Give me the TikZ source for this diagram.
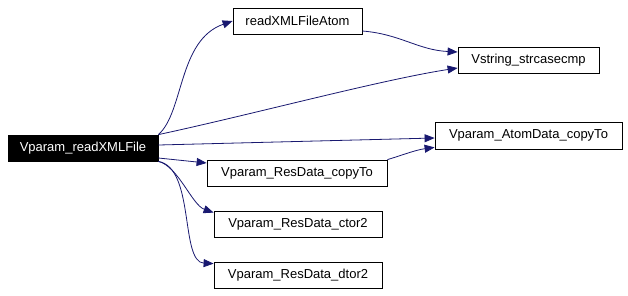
\documentclass[tikz,border=0pt]{standalone}
\usepackage{fontspec}
\setmainfont{Liberation Sans}
\usetikzlibrary{arrows.meta,calc}
\definecolor{edgeblue}{HTML}{191970}
\begin{document}
\begin{tikzpicture}[x=1pt,y=-1pt,
  fn/.style={draw=black,line width=0.8pt,fill=white,inner sep=0pt,
    minimum height=26pt,font=\fontsize{13}{15.6}\selectfont},
  root/.style={fn,fill=black,text=white},
  call/.style={draw=edgeblue,line width=0.8pt,
    -{Triangle[length=10pt,width=8pt]}}]
\useasboundingbox (0,0) rectangle (628,295);

% functions
\node[root,minimum width=150pt] (main) at (83,148) {Vparam\_readXMLFile};
\node[fn,minimum width=129pt] (atom) at (297.5,21) {readXMLFileAtom};
\node[fn,minimum width=141pt] (vstr) at (528.5,60) {Vstring\_strcasecmp};
\node[fn,minimum width=187pt,minimum height=27pt] (adc) at (528.5,135.5) {Vparam\_AtomData\_copyTo};
\node[fn,minimum width=180pt] (rdc) at (297,173) {Vparam\_ResData\_copyTo};
\node[fn,minimum width=168pt] (ctor) at (298,224) {Vparam\_ResData\_ctor2};
\node[fn,minimum width=168pt] (dtor) at (298,275) {Vparam\_ResData\_dtor2};

% calls
\draw[call] (main.north east) .. controls (184,112) and (178,40) .. (atom.west);
\draw[call] (main.north east) .. controls (250,115) and (380,80) .. ($(vstr.west)+(0,8)$);
\draw[call] ($(atom.east)+(0,10)$) .. controls (400,34) and (418,50) .. ($(vstr.west)+(0,-8)$);
\draw[call] ($(main.east)+(0,-3)$) -- ($(adc.west)+(0,2.5)$);
\draw[call] (rdc.north east) .. controls (400,156) and (415,150) .. ($(adc.south west)+(0,-2)$);
\draw[call] ($(main.east)+(0,10)$) -- ($(rdc.west)+(0,-10)$);
\draw[call] (main.south east) .. controls (178,166) and (192,205) .. ($(ctor.north west)+(0,2)$);
\draw[call] (main.south east) .. controls (195,168) and (180,262) .. ($(dtor.north west)+(0,2)$);
\end{tikzpicture}
\end{document}
